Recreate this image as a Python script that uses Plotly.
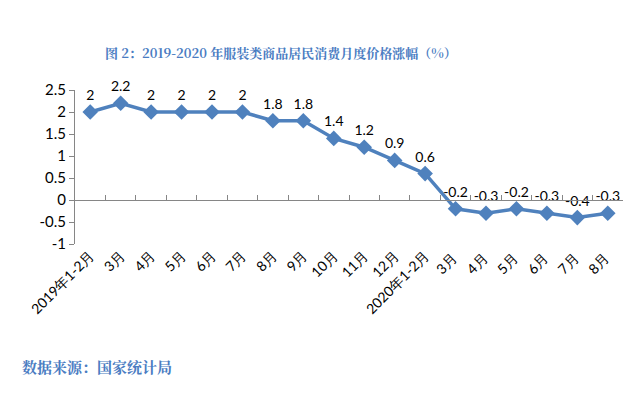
import plotly.graph_objects as go

categories = ["2019年1-2月", "3月", "4月", "5月", "6月", "7月", "8月", "9月", "10月", "11月", "12月",
              "2020年1-2月", "3月 ", "4月 ", "5月 ", "6月 ", "7月 ", "8月 "]
values = [2, 2.2, 2, 2, 2, 2, 1.8, 1.8, 1.4, 1.2, 0.9, 0.6, -0.2, -0.3, -0.2, -0.3, -0.4, -0.3]
y_ticks = [-1, -0.5, 0, 0.5, 1, 1.5, 2, 2.5]
y_tick_labels = ["-1", "-0.5", "0", "0.5", "1", "1.5", "2", "2.5"]

title_text = "图 2：2019-2020 年服装类商品居民消费月度价格涨幅（%）"
source_text = "数据来源：国家统计局"

blue = "#4f81bd"
OFF = 8  # page body margin
W, H = 640 - OFF, 399 - OFF
ml, mr, mt, mb = 75 - OFF, 17, 90 - OFF, 155
ymin, ymax = -1, 2.5
PW, PH = W - ml - mr, H - mt - mb

fig = go.Figure()
fig.add_trace(go.Scatter(
    x=categories, y=values, mode="lines+markers+text",
    line=dict(color=blue, width=3.5),
    marker=dict(symbol="diamond", size=12, color=blue),
    text=[f"{v:g}" for v in values], textposition="top center",
    textfont=dict(family="Lato, Carlito, sans-serif", size=14, color="#000000"),
    cliponaxis=False, showlegend=False,
))
# invisible trace on the secondary x axis (zero line axis)
fig.add_trace(go.Scatter(x=categories, y=values, xaxis="x2", mode="markers",
                         marker=dict(opacity=0), showlegend=False, hoverinfo="skip"))

zero_pos = (0 - ymin) / (ymax - ymin)

fig.update_layout(
    width=W, height=H,
    margin=dict(l=ml, r=mr, t=mt, b=mb, autoexpand=False),
    paper_bgcolor="white", plot_bgcolor="white",
    font=dict(family="Lato, Carlito, sans-serif", color="#000000"),
    xaxis=dict(
        type="category", categoryorder="array", categoryarray=categories,
        showline=False, showgrid=False, zeroline=False, ticks="",
        tickangle=-45, tickfont=dict(size=14, color="#000000"),
        range=[-0.5, len(categories) - 0.5], automargin=False,
    ),
    xaxis2=dict(
        type="category", categoryorder="array", categoryarray=categories,
        overlaying="x", anchor="free", position=zero_pos,
        showline=True, linecolor="#868686", linewidth=1,
        ticks="inside", ticklen=5, tickcolor="#868686", tickson="boundaries",
        showticklabels=False, showgrid=False, zeroline=False,
        range=[-0.5, len(categories) - 0.5], side="bottom", automargin=False,
    ),
    yaxis=dict(
        range=[ymin, ymax], tickvals=y_ticks, ticktext=y_tick_labels,
        showline=True, linecolor="#868686", linewidth=1,
        ticks="outside", ticklen=5, tickcolor="#868686",
        showgrid=False, zeroline=False, automargin=False,
        tickfont=dict(size=15, color="#000000"),
    ),
    annotations=[
        dict(text=f"<b>{title_text}</b>", xref="paper", yref="paper",
             x=(103 - OFF - ml) / PW, y=1 + (mt - (52 - OFF)) / PH,
             xanchor="left", yanchor="middle", showarrow=False,
             font=dict(family="Noto Serif CJK SC, Noto Sans CJK SC, serif", size=13, color="#4a7cc2")),
        dict(text=f"<b>{source_text}</b>", xref="paper", yref="paper",
             x=(20 - OFF - ml) / PW, y=-((366 - OFF) - (H - mb)) / PH,
             xanchor="left", yanchor="middle", showarrow=False,
             font=dict(family="Noto Serif CJK SC, Noto Sans CJK SC, serif", size=15, color="#4a7cc2")),
    ],
)

fig.write_html("out.html")
